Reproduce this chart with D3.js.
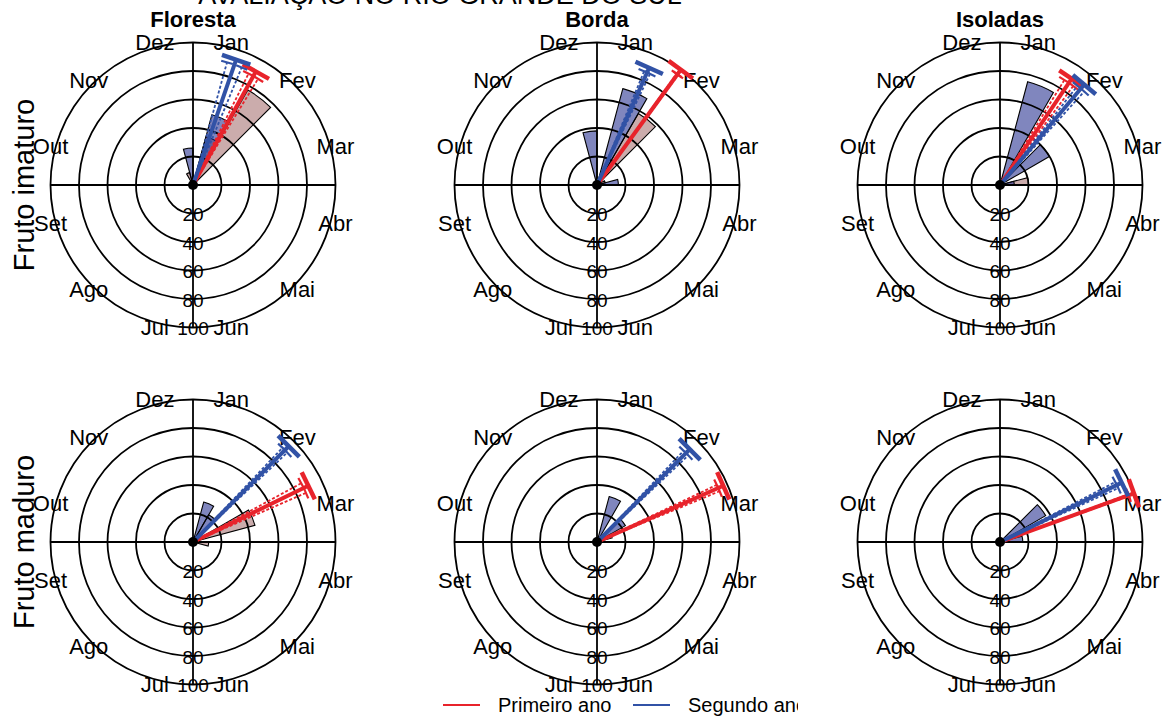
<!DOCTYPE html>
<html>
<head>
<meta charset="utf-8">
<script src="https://cdn.jsdelivr.net/npm/d3@7"></script>
<style>
  html, body { margin: 0; padding: 0; background: #fff; }
  svg { display: block; font-family: "Liberation Sans", Arial, sans-serif; }
</style>
</head>
<body>
<svg id="chart" width="1168" height="718"></svg>
<script>
// ---- labels ----
const title = "AVALIAÇÃO NO RIO GRANDE DO SUL";
const months = ["Jan","Fev","Mar","Abr","Mai","Jun","Jul","Ago","Set","Out","Nov","Dez"];
const radialTicks = [20, 40, 60, 80, 100];
const habitats = ["Floresta", "Borda", "Isoladas"];
const stages = ["Fruto imaturo", "Fruto maduro"];
const yearNames = ["Primeiro ano", "Segundo ano"];

// ---- percentage of records per half-month bin (24 bins of 15°, from 1 Jan) ----
const florestaImaturoAno1 = [0,35,77,0,0,0,0,0,0,0,0,0,0,0,0,0,0,0,0,0,0,0,9,0];
const florestaImaturoAno2 = [0,51,0,0,0,0,0,0,0,0,0,0,0,0,0,0,0,0,0,0,0,0,0,26];
const bordaImaturoAno1    = [0,0,58,0,6,0,0,0,0,0,0,0,0,0,0,0,0,0,0,0,0,0,0,0];
const bordaImaturoAno2    = [0,70,0,0,0,15,0,0,0,0,0,0,0,0,0,0,0,0,0,0,0,0,0,38];
const isoladasImaturoAno1 = [0,0,0,0,0,20,0,0,0,0,0,0,0,0,0,0,0,0,0,0,0,0,0,0];
const isoladasImaturoAno2 = [0,75,0,40,0,10,0,0,0,0,0,0,0,0,0,0,0,0,0,0,0,0,0,0];
const florestaMaduroAno1  = [0,0,0,0,45,0,11,0,0,0,0,0,0,0,0,0,0,0,0,0,0,0,0,0];
const florestaMaduroAno2  = [0,29,22,0,0,0,0,0,0,0,0,0,0,0,0,0,0,0,0,0,0,0,0,0];
const bordaMaduroAno1     = [0,0,0,0,11,0,0,0,0,0,0,0,0,0,0,0,0,0,0,0,0,0,0,0];
const bordaMaduroAno2     = [0,33,0,23,0,0,0,0,0,0,0,0,0,0,0,0,0,0,0,0,0,0,0,0];
const isoladasMaduroAno1  = [0,0,0,0,0,0,0,0,0,0,0,0,0,0,0,0,0,0,0,0,0,0,0,0];
const isoladasMaduroAno2  = [0,0,0,37,0,16,0,0,0,0,0,0,0,0,0,0,0,0,0,0,0,0,0,0];

// ---- mean vectors: [mean angle (deg, clockwise from 1 Jan), length (0-100), CI half-width (deg)] ----
const florestaImaturoVetor1 = [29, 91, 2.5];
const florestaImaturoVetor2 = [19, 93, 3.5];
const bordaImaturoVetor1    = [36, 100, 0.4];
const bordaImaturoVetor2    = [24, 90, 1.5];
const isoladasImaturoVetor1 = [34, 90, 2.5];
const isoladasImaturoVetor2 = [40, 92, 2];
const florestaMaduroVetor1  = [64, 90, 2.5];
const florestaMaduroVetor2  = [45, 95, 1.5];
const bordaMaduroVetor1     = [66, 97, 1.5];
const bordaMaduroVetor2     = [45, 92, 1.5];
const isoladasMaduroVetor1  = [70, 100, 0.4];
const isoladasMaduroVetor2  = [64, 95, 1.5];

const panels = [
  { row: 0, col: 0, bins: [florestaImaturoAno1, florestaImaturoAno2], vec: [florestaImaturoVetor1, florestaImaturoVetor2] },
  { row: 0, col: 1, bins: [bordaImaturoAno1, bordaImaturoAno2],       vec: [bordaImaturoVetor1, bordaImaturoVetor2] },
  { row: 0, col: 2, bins: [isoladasImaturoAno1, isoladasImaturoAno2], vec: [isoladasImaturoVetor1, isoladasImaturoVetor2] },
  { row: 1, col: 0, bins: [florestaMaduroAno1, florestaMaduroAno2],   vec: [florestaMaduroVetor1, florestaMaduroVetor2] },
  { row: 1, col: 1, bins: [bordaMaduroAno1, bordaMaduroAno2],         vec: [bordaMaduroVetor1, bordaMaduroVetor2] },
  { row: 1, col: 2, bins: [isoladasMaduroAno1, isoladasMaduroAno2],   vec: [isoladasMaduroVetor1, isoladasMaduroVetor2] }
];

// ---- layout & style ----
const colX = [193, 597, 1000];
const rowY = [185, 542];
const R = 142.5;
const lineColors = ["#e8232b", "#3152a6"];
const fillColors = ["rgba(139,71,71,0.45)", "rgba(24,35,137,0.55)"];

const svg = d3.select("#chart");
const r = d3.scaleLinear().domain([0, 100]).range([0, R]);
const ang = d3.scaleLinear().domain([0, 360]).range([0, 2 * Math.PI]);
const binWidth = 360 / 24;
const arc = d3.arc();

// polar -> cartesian (angle clockwise from north)
const px = (a, rr) => rr * Math.sin(ang(a));
const py = (a, rr) => -rr * Math.cos(ang(a));

// overall title (sits at the very top edge)
svg.append("text")
  .attr("x", 440).attr("y", 4)
  .attr("text-anchor", "middle")
  .attr("font-size", 27)
  .text(title);

// column titles
habitats.forEach((h, i) => {
  svg.append("text")
    .attr("x", colX[i]).attr("y", 27)
    .attr("text-anchor", "middle")
    .attr("font-size", 22).attr("font-weight", "bold")
    .text(h);
});

// row titles
stages.forEach((s, i) => {
  svg.append("text")
    .attr("transform", `translate(34,${rowY[i]}) rotate(-90)`)
    .attr("text-anchor", "middle")
    .attr("font-size", 29)
    .text(s);
});

panels.forEach(p => {
  const g = svg.append("g").attr("transform", `translate(${colX[p.col]},${rowY[p.row]})`);

  // rose wedges, first year then second year
  p.bins.forEach((vals, k) => {
    g.append("g").selectAll("path")
      .data(vals.map((v, i) => ({ v, i })).filter(d => d.v > 0))
      .join("path")
      .attr("d", d => arc({
        innerRadius: 0,
        outerRadius: r(d.v),
        startAngle: ang(d.i * binWidth),
        endAngle: ang((d.i + 1) * binWidth)
      }))
      .attr("fill", fillColors[k])
      .attr("stroke", "#000")
      .attr("stroke-width", 1.1);
  });

  // concentric rings
  g.append("g").selectAll("circle")
    .data(radialTicks)
    .join("circle")
    .attr("r", d => r(d))
    .attr("fill", "none")
    .attr("stroke", "#000")
    .attr("stroke-width", 1.8);

  // cross axes
  g.append("line").attr("x1", -R).attr("x2", R).attr("y1", 0).attr("y2", 0)
    .attr("stroke", "#000").attr("stroke-width", 1.8);
  g.append("line").attr("x1", 0).attr("x2", 0).attr("y1", -R).attr("y2", R)
    .attr("stroke", "#000").attr("stroke-width", 1.8);

  // radial tick labels along the lower axis
  g.append("g").selectAll("text")
    .data(radialTicks)
    .join("text")
    .attr("x", 0).attr("y", d => r(d) + 1)
    .attr("text-anchor", "middle")
    .attr("dominant-baseline", "central")
    .attr("font-size", 19)
    .text(d => d);

  // month labels at the middle of each month
  g.append("g").selectAll("text")
    .data(months)
    .join("text")
    .attr("x", (m, i) => px(i * 30 + 15, R + 5))
    .attr("y", (m, i) => py(i * 30 + 15, R + 5))
    .attr("text-anchor", "middle")
    .attr("dominant-baseline", "central")
    .attr("font-size", 22)
    .text(m => m);

  // mean vectors with confidence lines and end caps
  p.vec.forEach((v, k) => {
    const [a, len, ci] = v;
    const col = lineColors[k];
    const vg = g.append("g");
    const cap = (angle, rr, half, w) => {
      const cx = px(angle, r(rr)), cy = py(angle, r(rr));
      const nx = Math.cos(ang(angle)), ny = Math.sin(ang(angle));
      vg.append("line")
        .attr("x1", cx - nx * half).attr("y1", cy - ny * half)
        .attr("x2", cx + nx * half).attr("y2", cy + ny * half)
        .attr("stroke", col).attr("stroke-width", w);
    };
    [a - ci, a + ci].forEach(b => {
      vg.append("line")
        .attr("x1", 0).attr("y1", 0)
        .attr("x2", px(b, r(len * 0.96))).attr("y2", py(b, r(len * 0.96)))
        .attr("stroke", col).attr("stroke-width", 1.8)
        .attr("stroke-dasharray", "3,2");
      cap(b, len * 0.96, 6, 2.2);
    });
    vg.append("line")
      .attr("x1", 0).attr("y1", 0)
      .attr("x2", px(a, r(len))).attr("y2", py(a, r(len)))
      .attr("stroke", col).attr("stroke-width", 4);
    cap(a, len, 15, 4.5);
  });

  // centre point
  g.append("circle").attr("r", 5).attr("fill", "#000");
});

// legend (cut at the right edge of the middle column)
svg.append("clipPath").attr("id", "legend-clip")
  .append("rect").attr("x", 400).attr("y", 690).attr("width", 398).attr("height", 28);
const legend = svg.append("g").attr("clip-path", "url(#legend-clip)");
const legendX = [443, 633];
yearNames.forEach((n, k) => {
  legend.append("line")
    .attr("x1", legendX[k]).attr("x2", legendX[k] + 37)
    .attr("y1", 705).attr("y2", 705)
    .attr("stroke", lineColors[k]).attr("stroke-width", 2.2);
  legend.append("text")
    .attr("x", legendX[k] + 55).attr("y", 712)
    .attr("font-size", 20)
    .text(n);
});
</script>
</body>
</html>
